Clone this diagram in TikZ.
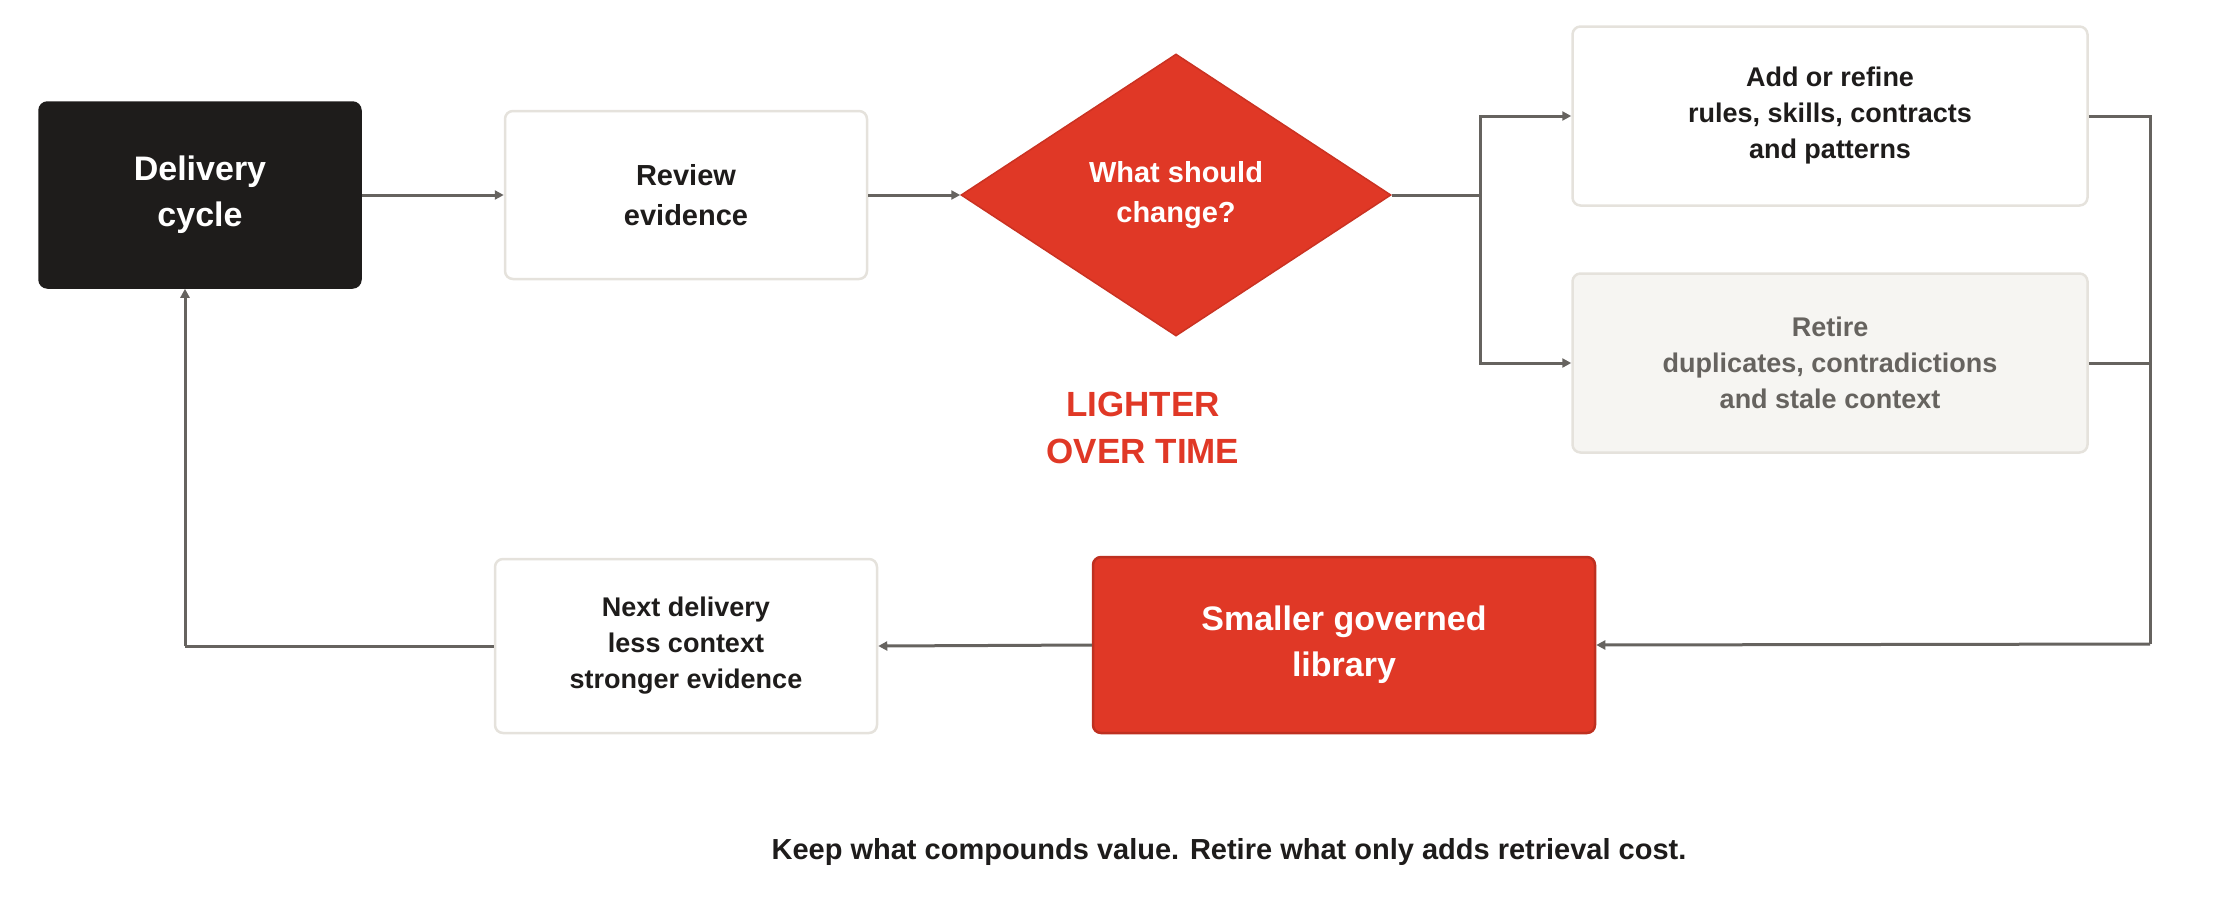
\documentclass[tikz,border=0pt]{standalone}
\usepackage{fontspec}
\setmainfont{Liberation Sans}
\usetikzlibrary{shapes.geometric,arrows.meta}
\definecolor{red1}{HTML}{E03826}
\definecolor{dark}{HTML}{1E1C1B}
\definecolor{bord}{HTML}{E5E2DC}
\definecolor{pale}{HTML}{F6F5F2}
\definecolor{grayt}{HTML}{66635F}
\begin{document}
\begin{tikzpicture}[x=1pt,y=-1pt,
 box/.style={draw=bord,line width=2.5pt,rounded corners=8pt,fill=white,align=center,font=\fontsize{27}{36}\selectfont\bfseries,text=dark,inner sep=0pt},
 conn/.style={draw=grayt,line width=3pt,-{Triangle[length=9pt,width=9pt]}},
 line/.style={draw=grayt,line width=3pt}]
\path[use as bounding box] (0,0) rectangle (2224,922);
\node[box,fill=dark,draw=dark,text=white,minimum width=321pt,minimum height=185pt,font=\fontsize{34}{46}\selectfont\bfseries] (del) at (200,195) {Delivery\\cycle};
\node[box,minimum width=362pt,minimum height=168pt,font=\fontsize{29}{40}\selectfont\bfseries] (rev) at (686,195) {Review\\evidence};
\node[diamond,aspect=1.52,fill=red1,draw=red1!90!black,line width=1.5pt,minimum width=430pt,minimum height=282pt,inner sep=0pt,text=white,align=center,font=\fontsize{29}{40}\selectfont\bfseries] (dia) at (1176,195) {\raisebox{28pt}{\parbox{7em}{\centering What should\\change?}}};
\node[box,minimum width=515pt,minimum height=179pt] (add) at (1830,116) {Add or refine\\rules, skills, contracts\\and patterns};
\node[box,fill=pale,text=grayt,minimum width=515pt,minimum height=179pt] (ret) at (1830,363) {Retire\\duplicates, contradictions\\and stale context};
\node[box,fill=red1,draw=red1!85!black,text=white,minimum width=502pt,minimum height=176pt,font=\fontsize{34}{46}\selectfont\bfseries] (lib) at (1344,645) {Smaller governed\\library};
\node[box,minimum width=382pt,minimum height=174pt] (nxt) at (686,646) {Next delivery\\less context\\stronger evidence};
\node[text=red1,align=center,font=\fontsize{35}{47}\selectfont\bfseries] (lt) at (1143,428) {LIGHTER\\OVER TIME};
\node[text=dark,font=\fontsize{29}{36}\selectfont\bfseries] (cap) at (1229,852) {Keep what compounds value. Retire what only adds retrieval cost.};
\coordinate (br) at (1480,195);
\coordinate (rt) at (2150,116);
\coordinate (rb) at (2150,644);
\coordinate (lb) at (185,646);
\draw[conn] (del) -- (rev);
\draw[conn] (rev) -- (dia);
\draw[line] (dia.east) -- (br);
\draw[conn] (br) |- (add.west);
\draw[conn] (br) |- (ret.west);
\draw[line] (add.east) -| (rt) -- (rb);
\draw[line] (ret.east) -- (ret.east -| rt);
\draw[conn] (rb) -- (lib.east);
\draw[conn] (lib.west) -- (nxt.east);
\draw[line] (nxt.west) -- (lb);
\draw[conn] (lb) -- (lb |- del.south);
\end{tikzpicture}
\end{document}
